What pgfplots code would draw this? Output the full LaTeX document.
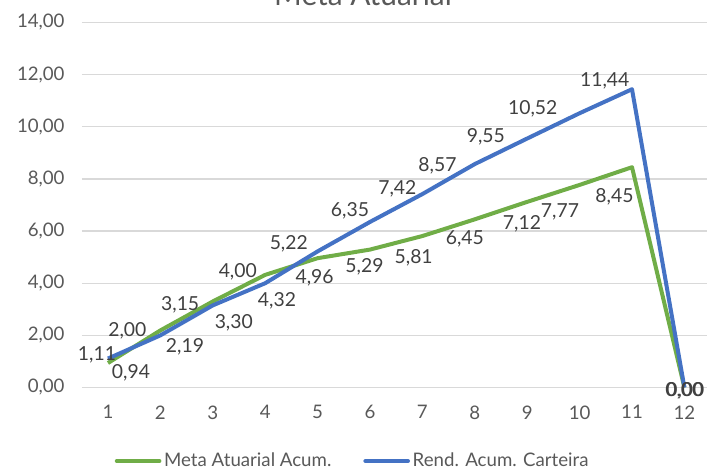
\documentclass[border=0pt]{standalone}
\usepackage{fontspec}
\setmainfont{Lato}
\usepackage{pgfplots}
\usepackage{pgfplotstable}
\pgfplotsset{compat=1.18}
\pgfkeys{/pgf/number format/assume math mode=true}
\definecolor{cgreen}{HTML}{70AD47}
\definecolor{cblue}{HTML}{4472C4}
\definecolor{cgrid}{HTML}{D9D9D9}
\definecolor{ctick}{HTML}{595959}
\definecolor{clabel}{HTML}{404040}

% x, y, label offsets (pt)
\pgfplotstableread{
x y dx dy
1 0.94 17.25 -12
2 2.19 18.45 -16.2
3 3.30 15.75 -19.95
4 4.32 8.85 -23.63
5 4.96 -2.25 -19.13
6 5.29 -4.13 -17.55
7 5.81 -6.53 -20.7
8 6.45 -7.5 -18.98
9 7.12 -3.9 -20.85
10 7.77 -14.7 -24.53
11 8.45 -13.13 -26.25
12 0.00 0 -6.75
}\meta

\pgfplotstableread{
x y dx dy
1 1.11 -8.25 -1.5
2 2.00 -24.75 -0.75
3 3.15 -24.45 -3.75
4 4.00 -20.55 4.35
5 5.22 -21.6 1.28
6 6.35 -15 3.75
7 7.42 -18.75 -0.45
8 8.57 -27.98 -5.48
9 9.55 -31.05 -3.3
10 10.52 -35.1 -0.98
11 11.44 -20.48 2.25
12 0.00 0.75 -6.75
}\rend

\begin{document}
\begin{tikzpicture}
\begin{axis}[
  scale only axis,
  width=471.6pt, height=273.75pt,
  xmin=0.5, xmax=12.5, ymin=0, ymax=14,
  xtick={1,...,12}, ytick={0,2,...,14},
  ymajorgrids, grid style={cgrid, line width=1pt},
  axis line style={draw=none},
  tick style={draw=none},
  tick label style={font=\fontsize{14}{16}\selectfont, text=ctick},
  yticklabel style={xshift=-9.4pt, /pgf/number format/fixed, /pgf/number format/fixed zerofill, /pgf/number format/precision=2, /pgf/number format/use comma},
  xticklabel style={yshift=-10pt},
  legend style={draw=none, fill=none, at={(0.4313,-0.2014)}, anchor=center,
    font=\fontsize{14}{16}\selectfont, text=ctick,
    /tikz/every even column/.append style={column sep=22pt}},
  legend columns=2,
  legend image code/.code={\draw[#1, line width=3pt, line cap=round] (1.5pt,0pt) -- (33.5pt,0pt);},
  clip=false,
]
\addplot[cgreen, line width=3pt, line join=round,
  visualization depends on={\thisrow{dx} \as \dx},
  visualization depends on={\thisrow{dy} \as \dy},
  nodes near coords={\pgfmathprintnumber[fixed,fixed zerofill,precision=2,use comma]{\pgfplotspointmeta}},
  nodes near coords style={anchor=base, xshift=\dx pt, yshift=\dy pt, font=\fontsize{14.5}{16}\selectfont, text=clabel, inner sep=0pt},
] table[x=x, y=y] {\meta};
\addlegendentry{Meta Atuarial Acum.}
\addplot[cblue, line width=3pt, line join=round,
  visualization depends on={\thisrow{dx} \as \dx},
  visualization depends on={\thisrow{dy} \as \dy},
  nodes near coords={\pgfmathprintnumber[fixed,fixed zerofill,precision=2,use comma]{\pgfplotspointmeta}},
  nodes near coords style={anchor=base, xshift=\dx pt, yshift=\dy pt, font=\fontsize{14.5}{16}\selectfont, text=clabel, inner sep=0pt},
] table[x=x, y=y] {\rend};
\addlegendentry{Rend. Acum. Carteira}
\coordinate (bl) at (rel axis cs:0,0);
\coordinate (tl) at (rel axis cs:0,1);
\node[anchor=base, font=\fontsize{22.4}{26}\selectfont, text=ctick] at ([yshift=12.6pt]rel axis cs:0.4472,1) {Meta Atuarial};
\end{axis}
\pgfresetboundingbox
\path[use as bounding box] ([xshift=-61.35pt, yshift=-64.875pt]bl) rectangle ([xshift=468.9pt, yshift=16.875pt]tl);
\end{tikzpicture}
\end{document}
